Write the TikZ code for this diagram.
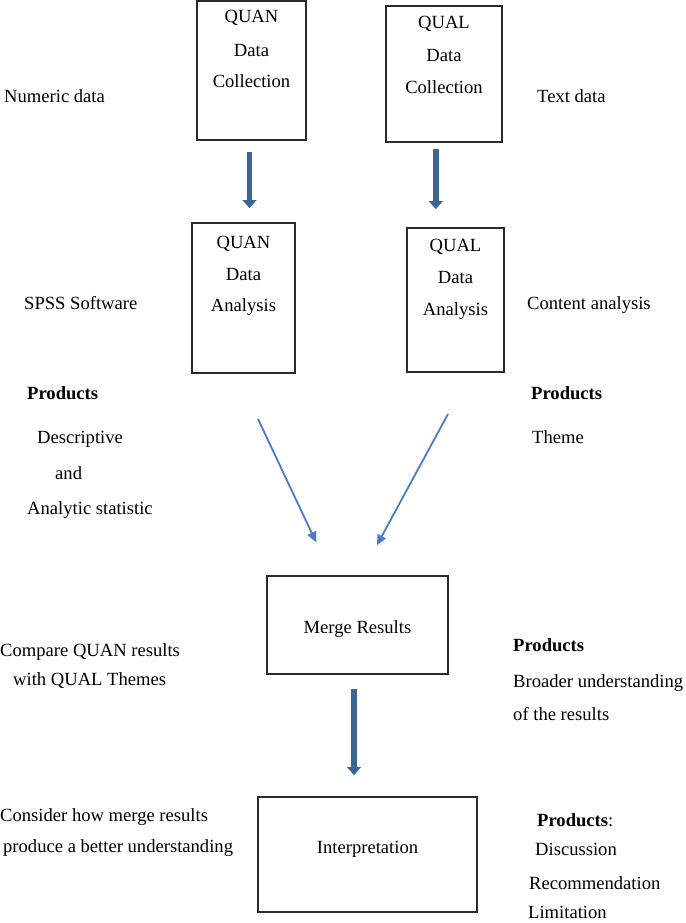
\documentclass[tikz,border=0pt]{standalone}
\usepackage{fontspec}
\setmainfont{Liberation Serif}
\usetikzlibrary{arrows.meta}
\definecolor{boldarrow}{HTML}{3C6496}
\definecolor{thinarrow}{HTML}{4A7BC6}
\definecolor{boxline}{HTML}{2A2A2A}
\tikzset{
  stagebox/.style={draw=boxline, line width=1.1pt, inner sep=0pt, fill=none},
  txt/.style={inner sep=0pt, anchor=base west, font=\fontsize{18.6}{32.5}\selectfont},
  ctxt/.style={inner sep=0pt, anchor=base, font=\fontsize{18.6}{32.5}\selectfont},
  bigarrow/.style={draw=boldarrow, line width=5.5pt, -{Triangle[width=14pt,length=8pt,line width=0.01pt]}},
  slimarrow/.style={draw=thinarrow, line width=1.8pt, -{Triangle[width=9.5pt,length=10pt,line width=0.01pt]}}
}
\begin{document}
\begin{tikzpicture}[x=1pt,y=-1pt]
\useasboundingbox (0,0) rectangle (685,923);
% boxes
\node[stagebox, minimum width=109pt, minimum height=139pt] (quancol) at (251.5,70.5) {};
\node[stagebox, minimum width=116pt, minimum height=136pt] (qualcol) at (444,74) {};
\node[stagebox, minimum width=103pt, minimum height=150pt] (quanana) at (243.5,298) {};
\node[stagebox, minimum width=97pt, minimum height=144pt] (qualana) at (455.5,300) {};
\node[stagebox, minimum width=181pt, minimum height=98pt] (merge) at (357.5,625) {};
\node[stagebox, minimum width=219pt, minimum height=115pt] (interp) at (367.5,854.5) {};
% box texts
\node[ctxt] (t1a) at (251.5,23) {QUAN};
\node[ctxt] (t1b) at (251.5,57) {Data};
\node[ctxt] (t1c) at (251.5,88) {Collection};
\node[ctxt] (t2a) at (444,29) {QUAL};
\node[ctxt] (t2b) at (444,62) {Data};
\node[ctxt] (t2c) at (444,94) {Collection};
\node[ctxt] (t3a) at (243.5,248) {QUAN};
\node[ctxt] (t3b) at (243.5,280) {Data};
\node[ctxt] (t3c) at (243.5,311) {Analysis};
\node[ctxt] (t4a) at (455.5,251) {QUAL};
\node[ctxt] (t4b) at (455.5,283) {Data};
\node[ctxt] (t4c) at (455.5,315) {Analysis};
\node[ctxt] (t5) at (357.5,633) {Merge Results};
\node[ctxt] (t6) at (367.5,853) {Interpretation};
% side texts
\node[txt] (s1) at (4,103) {Numeric data};
\node[txt] (s2) at (537,103) {Text data};
\node[txt] (s3) at (24,309) {SPSS Software};
\node[txt] (s4) at (527,309) {Content analysis};
\node[txt] (s5) at (27,399) {\textbf{Products}};
\node[txt] (s6) at (37,443) {Descriptive};
\node[txt] (s7) at (55,479) {and};
\node[txt] (s8) at (27,514) {Analytic statistic};
\node[txt] (s9) at (531,399) {\textbf{Products}};
\node[txt] (s10) at (532,443) {Theme};
\node[txt] (s11) at (0,656) {Compare QUAN results};
\node[txt] (s12) at (13,685) {with QUAL Themes};
\node[txt] (s13) at (0,821) {Consider how merge results};
\node[txt] (s14) at (3,852) {produce a better understanding};
\node[txt] (s15) at (513,651) {\textbf{Products}};
\node[txt] (s16) at (513,687) {Broader understanding};
\node[txt] (s17) at (513,720) {of the results};
\node[txt] (s18) at (537,826) {\textbf{Products}:};
\node[txt] (s19) at (535,855) {Discussion};
\node[txt] (s20) at (529,889) {Recommendation};
\node[txt] (s21) at (528,918) {Limitation};
% arrow end points
\coordinate (a1s) at (249.5,152);
\coordinate (a1e) at (249.5,208);
\coordinate (a2s) at (435.8,149);
\coordinate (a2e) at (435.8,209);
\coordinate (a3s) at (354,689);
\coordinate (a3e) at (354,775);
\coordinate (l1s) at (258,419);
\coordinate (l1e) at (316,542);
\coordinate (l2s) at (448,414);
\coordinate (l2e) at (377,545);
\draw[bigarrow, line width=5pt] (a1s) -- (a1e);
\draw[bigarrow] (a2s) -- (a2e);
\draw[bigarrow] (a3s) -- (a3e);
\draw[slimarrow] (l1s) -- (l1e);
\draw[slimarrow] (l2s) -- (l2e);
\end{tikzpicture}
\end{document}
